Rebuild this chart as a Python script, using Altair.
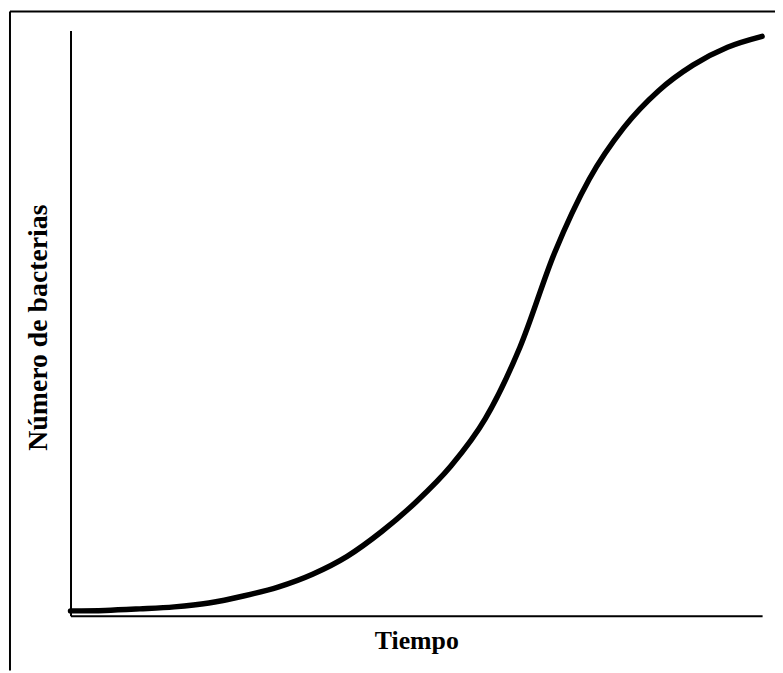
import altair as alt
import pandas as pd

# Sigmoid growth curve (time 0-100, count 0-100)
tiempo = [0, 5, 10, 15, 20, 25, 30, 35, 40, 45, 50, 55, 60, 65, 70, 75, 80,
          85, 90, 95, 100]
bacterias = [0.85, 0.93, 1.19, 1.53, 2.20, 3.39, 4.92, 7.12, 10.17, 14.41,
             19.49, 25.59, 33.73, 45.93, 62.03, 74.58, 83.39, 89.66, 94.07,
             97.12, 98.98]

df = pd.DataFrame({"t": tiempo, "n": bacterias})

FONT = "Liberation Serif"

curve = alt.Chart(df).mark_line(
    color="black", strokeWidth=5.5, interpolate="monotone", strokeCap="round"
).encode(
    x=alt.X("t:Q", scale=alt.Scale(domain=[0, 100], nice=False, zero=False),
            axis=alt.Axis(title="Tiempo", labels=False, ticks=False, grid=False,
                          domainColor="black", domainWidth=2,
                          titleFont=FONT, titleFontSize=26, titleFontWeight="bold",
                          titleColor="black", titlePadding=12)),
    y=alt.Y("n:Q", scale=alt.Scale(domain=[0, 100], nice=False, zero=False),
            axis=alt.Axis(title="Número de bacterias", labels=False, ticks=False,
                          grid=False, domainColor="black", domainWidth=2,
                          titleFont=FONT, titleFontSize=28, titleFontWeight="bold",
                          titleColor="black", titleX=-32, titleY=299,
                          titleAlign="center", titleBaseline="middle")),
)

one = pd.DataFrame({"a": [0]})
frame_left = alt.Chart(one).mark_rule(color="black", strokeWidth=2).encode(
    x=alt.value(-61), y=alt.value(-19), y2=alt.value(645))
frame_top = alt.Chart(one).mark_rule(color="black", strokeWidth=2).encode(
    x=alt.value(-61), x2=alt.value(711), y=alt.value(-19))

chart = alt.layer(frame_left, frame_top, curve).properties(
    width=697, height=590,
    padding={"left": 63, "top": 20, "right": 13, "bottom": 54},
    autosize=alt.AutoSizeParams(type="none"),
).configure_view(stroke=None)

chart.save("out.html", embed_options={"renderer": "svg", "actions": False})
